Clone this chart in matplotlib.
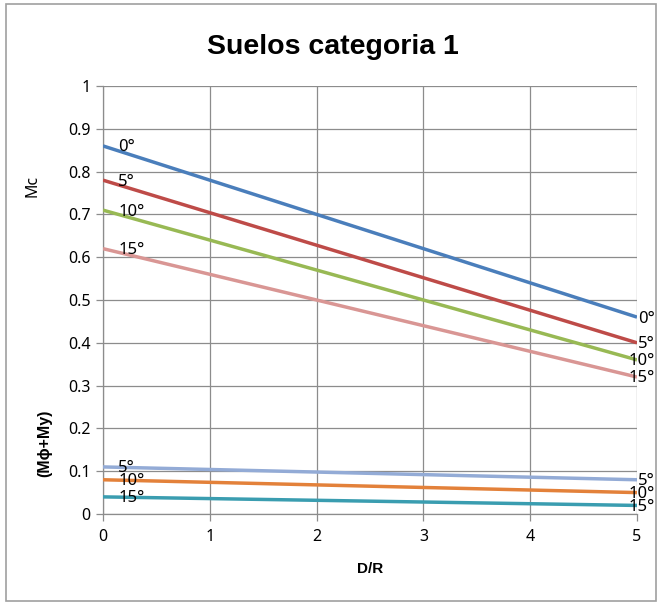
import matplotlib
matplotlib.use("Agg")
import matplotlib.pyplot as plt
from matplotlib.patches import Rectangle

plt.rcParams['font.family'] = ['Noto Sans', 'DejaVu Sans']
BOLD = ['Liberation Sans', 'DejaVu Sans']

# D/R values and curves per friction angle
dr = [0, 1, 2, 3, 4, 5]

mc_angles = ["0°", "5°", "10°", "15°"]
mc_values = [
    [0.86, 0.78, 0.70, 0.62, 0.54, 0.46],
    [0.78, 0.704, 0.628, 0.552, 0.476, 0.40],
    [0.71, 0.64, 0.57, 0.50, 0.43, 0.36],
    [0.62, 0.56, 0.50, 0.44, 0.38, 0.32],
]
mc_colors = ["#4A7EBB", "#BE4B48", "#98B954", "#D99694"]

mphi_angles = ["5°", "10°", "15°"]
mphi_values = [
    [0.11, 0.104, 0.098, 0.092, 0.086, 0.08],
    [0.08, 0.074, 0.068, 0.062, 0.056, 0.05],
    [0.04, 0.036, 0.032, 0.028, 0.024, 0.02],
]
mphi_colors = ["#93ABD6", "#E3813A", "#3A9DB0"]

W, H = 657, 603
fig = plt.figure(figsize=(W / 100, H / 100), dpi=100)
ax = fig.add_axes([103 / W, 1 - 514 / H, 534 / W, 428 / H])

grid_c = "#8C8C8C"

def draw_series(values, labels, colors):
    for vals, lab, col in zip(values, labels, colors):
        ax.plot(dr, vals, color=col, lw=2.5, solid_capstyle="butt", zorder=3)
        ax.annotate(lab, (dr[0], vals[0]), xytext=(11, -1),
                    textcoords="offset points", ha="left", va="center",
                    fontsize=12, zorder=4)
        ax.annotate(lab, (dr[-1], vals[-1]), xytext=(13, -1),
                    textcoords="offset points", ha="right", va="center",
                    fontsize=12, zorder=4, annotation_clip=False)

draw_series(mc_values, mc_angles, mc_colors)
draw_series(mphi_values, mphi_angles, mphi_colors)

ax.set_xlim(0, 5)
ax.set_ylim(0, 1)
ax.set_xticks(dr)
ax.set_yticks([i / 10 for i in range(11)])
ax.set_yticklabels(["0"] + [f"{i / 10:.1f}" for i in range(1, 10)] + ["1"])
ax.grid(True, color=grid_c, lw=0.9)
ax.set_axisbelow(True)
for side in ["top", "right"]:
    ax.spines[side].set_visible(False)
for side in ["left", "bottom"]:
    ax.spines[side].set_color(grid_c)
    ax.spines[side].set_linewidth(0.9)
ax.tick_params(axis="both", colors=grid_c, labelcolor="black", labelsize=11.5,
               length=5, width=0.9, direction="out")
ax.tick_params(axis="y", pad=4)
ax.tick_params(axis="x", pad=6)

fig.text(333 / W, 1 - 47 / H, "Suelos categoria 1", ha="center", va="center",
         fontsize=20.5, fontweight="bold", family=BOLD)
fig.text(370 / W, 1 - 569 / H, "D/R", ha="center", va="center",
         fontsize=11, fontweight="bold", family=BOLD)
fig.text(32 / W, 1 - 186 / H, "Mc", ha="center", va="center",
         fontsize=11.5, rotation=90)
fig.text(45 / W, 1 - 443 / H, "(Mϕ+My)", ha="center", va="center",
         fontsize=11.5, fontweight="bold", rotation=90, family=BOLD)

# outer chart border
fig.patches.append(Rectangle((6 / W, 2 / H), 650 / W, 597 / H,
                             transform=fig.transFigure, fill=False,
                             edgecolor="#A0A0A0", lw=1.2))

fig.savefig("out.png", dpi=100)
